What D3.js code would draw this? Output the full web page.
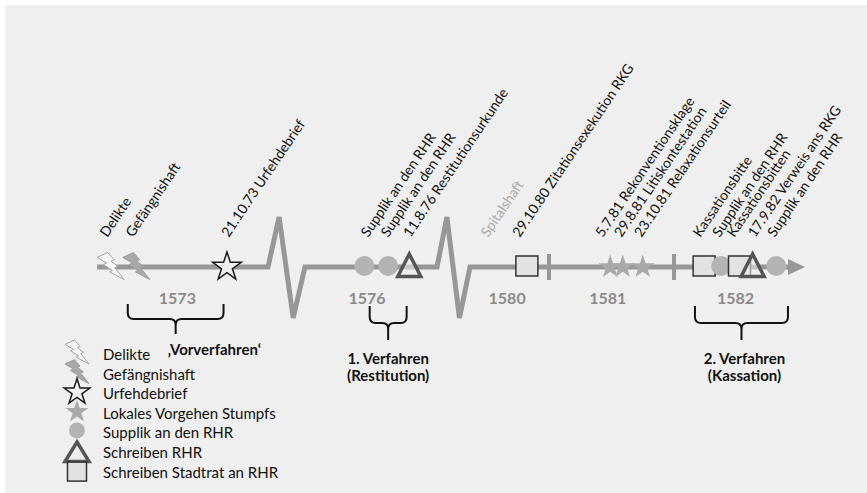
<!DOCTYPE html>
<html>
<head>
<meta charset="utf-8">
<script src="https://cdn.jsdelivr.net/npm/d3@7"></script>
<style>
  body { margin: 0; background: #fff; }
  svg { display: block; }
  text { font-family: Lato, "Open Sans", sans-serif; }
</style>
</head>
<body>
<svg width="867" height="493"></svg>
<script>
// Zeitachse (Jahre mit Brüchen)
const segmentYears = [1573, 1574, 1576, 1577, 1580, 1581, 1582, 1583];
const breakPairs = [[1574, 1576], [1577, 1580]];
const yearLabels = [1573, 1576, 1580, 1581, 1582];
const yearTicks = [1581, 1582];

// Ereignisse (Position des Symbols / der Beschriftung auf der Zeitachse)
const eventTimes = [1573.08, 1573.23, 1573.76, 1576.45, 1576.63, 1576.79, 1580.23, 1580.72,
  1581.49, 1581.59, 1581.75, 1582.23, 1582.36, 1582.50, 1582.60, 1582.78];
const labelTimes = [1573.06, 1573.21, 1573.77, 1576.48, 1576.63, 1576.80, 1580.23, 1580.63,
  1581.43, 1581.58, 1581.74, 1582.20, 1582.35, 1582.46, 1582.62, 1582.77];
const eventTypes = ["delikt", "haft", "urfehde", "supplik", "supplik", "rhr", "none", "stadtrat",
  "lokal", "lokal", "lokal", "stadtrat", "supplik", "stadtrat", "rhr", "supplik"];
const eventLabels = ["Delikte", "Gefängnishaft", "21.10.73 Urfehdebrief", "Supplik an den RHR",
  "Supplik an den RHR", "11.8.76 Restitutionsurkunde", "Spitalshaft", "29.10.80 Zitationsexekution RKG",
  "5.7.81 Rekonventionsklage", "29.8.81 Litiskontestation", "23.10.81 Relaxationsurteil",
  "Kassationsbitte", "Supplik an den RHR", "Kassationsbitten", "17.9.82 Verweis ans RKG", "Supplik an den RHR"];

// Verfahrensabschnitte (Klammern)
const phaseStart = [1573.18, 1576.49, 1582.16];
const phaseEnd = [1573.74, 1576.77, 1582.87];
const phaseLabels = [["\u201AVorverfahren\u2018"], ["1. Verfahren", "(Restitution)"], ["2. Verfahren", "(Kassation)"]];

// Legende
const legendTypes = ["delikt", "haft", "urfehde", "lokal", "supplik", "rhr", "stadtrat"];
const legendLabels = ["Delikte", "Gefängnishaft", "Urfehdebrief", "Lokales Vorgehen Stumpfs",
  "Supplik an den RHR", "Schreiben RHR", "Schreiben Stadtrat an RHR"];

const svg = d3.select("svg");
const lineColor = "#979797";
const y0 = 267;

svg.append("rect").attr("x", 5).attr("y", 5).attr("width", 862).attr("height", 488).attr("fill", "#efefef");

const x = d3.scaleLinear()
  .domain(segmentYears)
  .range([97, 268, 305, 437, 470, 549, 674, 805]);

// Hauptlinie mit Zickzack-Brüchen
const pts = [[x(segmentYears[0]), y0]];
breakPairs.forEach(([a, b]) => {
  const xa = x(a), xb = x(b), w = xb - xa;
  pts.push([xa, y0], [xa + 0.3 * w, y0 - 50], [xa + 0.68 * w, y0 + 51], [xb, y0]);
});
pts.push([x(segmentYears[segmentYears.length - 1]) - 12, y0]);

svg.append("path")
  .attr("d", d3.line()(pts))
  .attr("fill", "none")
  .attr("stroke", lineColor)
  .attr("stroke-width", 5)
  .attr("stroke-linejoin", "miter");

// Pfeilspitze
const xEnd = x(segmentYears[segmentYears.length - 1]);
svg.append("path")
  .attr("d", `M${xEnd - 17},${y0 - 8}L${xEnd},${y0}L${xEnd - 17},${y0 + 8}Z`)
  .attr("fill", lineColor);

// Jahresstriche
svg.append("g").selectAll("line")
  .data(yearTicks)
  .join("line")
  .attr("x1", d => x(d)).attr("x2", d => x(d))
  .attr("y1", y0 - 13).attr("y2", y0 + 13)
  .attr("stroke", lineColor)
  .attr("stroke-width", 4);

// Jahreszahlen
svg.append("g").selectAll("text")
  .data(yearLabels)
  .join("text")
  .attr("x", d => x(d + 0.47))
  .attr("y", 304)
  .attr("text-anchor", "middle")
  .attr("font-size", 16)
  .attr("font-weight", "bold")
  .attr("fill", "#8a8a8a")
  .text(d => d);

// Symbole
const boltPath = "M8458,0L0,3923L7564,8416L4993,9720L12189,14386L9945,15427L21600,21600L14155,12227L16618,11108L11050,6902L13500,5751Z";

function drawMarker(g, type, cx, cy, big) {
  if (type === "delikt" || type === "haft") {
    const s = (big ? 27 : 24) / 21600;
    g.append("path")
      .attr("d", boltPath)
      .attr("transform", `translate(${cx},${cy}) scale(${s}) translate(-10800,-10800)`)
      .attr("fill", type === "delikt" ? "#f6f6f6" : "#a8a8a8")
      .attr("stroke", type === "delikt" ? "#a5a5a5" : "#9c9c9c")
      .attr("stroke-width", 1)
      .attr("vector-effect", "non-scaling-stroke");
  } else if (type === "urfehde" || type === "lokal") {
    const r = type === "urfehde" ? (big ? 15 : 13.5) : (big ? 12.5 : 12);
    g.append("path")
      .attr("d", d3.symbol(d3.symbolStar, r * r / 0.8908)())
      .attr("transform", `translate(${cx},${cy + 1})`)
      .attr("fill", type === "urfehde" ? "#eeeeee" : "#a9a9a9")
      .attr("stroke", type === "urfehde" ? "#1a1a1a" : "none")
      .attr("stroke-width", 1.5);
  } else if (type === "supplik") {
    g.append("circle")
      .attr("cx", cx).attr("cy", cy)
      .attr("r", big ? 10 : 8)
      .attr("fill", "#b3b3b3");
  } else if (type === "rhr") {
    const hw = big ? 11.5 : 12, top = big ? 12 : 10, bot = big ? 10.5 : 9.5;
    g.append("path")
      .attr("d", `M${cx},${cy - top}L${cx + hw},${cy + bot}L${cx - hw},${cy + bot}Z`)
      .attr("fill", "#ececec")
      .attr("fill-opacity", 0.55)
      .attr("stroke", "#555")
      .attr("stroke-width", 3.5)
      .attr("stroke-linejoin", "miter");
  } else if (type === "stadtrat") {
    const w = big ? 22 : 19, h = big ? 20 : 19;
    g.append("rect")
      .attr("x", cx - w / 2).attr("y", cy - h / 2)
      .attr("width", w).attr("height", h)
      .attr("fill", "#e2e2e2")
      .attr("stroke", "#333")
      .attr("stroke-width", 1.5);
  }
}

const markers = svg.append("g");
eventTimes.forEach((t, i) => drawMarker(markers, eventTypes[i], x(t), y0 - 1, true));

// Beschriftungen (gedreht)
svg.append("g").selectAll("text")
  .data(labelTimes)
  .join("text")
  .attr("transform", d => `translate(${x(d)},238) rotate(-56)`)
  .attr("font-size", 14)
  .attr("fill", (d, i) => eventTypes[i] === "none" ? "#aaa" : "#111")
  .text((d, i) => eventLabels[i]);

// Klammern
function bracePath(xl, xr, yt, yh, ys) {
  const xm = (xl + xr) / 2, r = 6;
  return `M${xl},${yt}L${xl},${yh - r}Q${xl},${yh} ${xl + r},${yh}L${xm - r},${yh}Q${xm},${yh} ${xm},${yh + r}L${xm},${ys}` +
    `M${xm},${yh + r}Q${xm},${yh} ${xm + r},${yh}L${xr - r},${yh}Q${xr},${yh} ${xr},${yh - r}L${xr},${yt}`;
}

const phases = svg.append("g");
phaseStart.forEach((s, i) => {
  const xl = x(s), xr = x(phaseEnd[i]), xm = (xl + xr) / 2;
  const yt = i === 0 ? 304 : 306;
  const yh = i === 0 ? 319 : 323;
  const ys = i === 0 ? 334 : 340;
  phases.append("path")
    .attr("d", bracePath(xl, xr, yt, yh, ys))
    .attr("fill", "none")
    .attr("stroke", "#111")
    .attr("stroke-width", 2);
  const txt = phases.append("text")
    .attr("font-size", 15)
    .attr("font-weight", "bold")
    .attr("fill", "#111")
    .attr("text-anchor", i === 0 ? "start" : "middle");
  phaseLabels[i].forEach((line, j) => {
    txt.append("tspan")
      .attr("x", i === 0 ? xm - 8 : xm + (i === 2 ? 3 : 0))
      .attr("y", (i === 0 ? 355 : 364) + j * 17)
      .text(line);
  });
});

// Legende
const legend = svg.append("g");
legendTypes.forEach((type, i) => {
  const ly = 355 + i * 19.6;
  drawMarker(legend, type, 77, ly - 3 + (type === "rhr" ? 2 : 0) + (type === "stadtrat" ? 2 : 0), false);
  legend.append("text")
    .attr("x", 103)
    .attr("y", ly + 5)
    .attr("font-size", 15)
    .attr("fill", "#111")
    .text(legendLabels[i]);
});
</script>
</body>
</html>
